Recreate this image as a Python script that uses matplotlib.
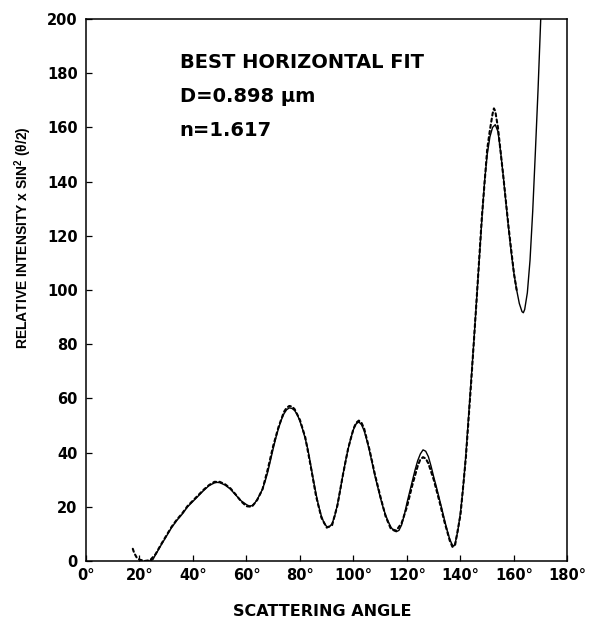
import matplotlib
matplotlib.use("Agg")
import matplotlib.pyplot as plt

plt.rcParams['font.family'] = ['DejaVu Sans']
plt.rcParams['mathtext.fontset'] = 'custom'
plt.rcParams['mathtext.bf'] = 'Liberation Sans:bold'
plt.rcParams['mathtext.rm'] = 'Liberation Sans'

# Mie theory curve (solid)
theory_angle = [22, 24, 25, 26, 28, 30, 32, 34, 36, 38, 40, 42, 44, 46, 48, 49, 50,
                52, 54, 56, 58, 60, 61, 62, 63, 64, 65, 66, 67, 68, 69, 70,
                71, 72, 73, 74, 75, 76, 77, 78, 79, 80, 81, 82, 83, 84, 85,
                86, 87, 88, 89, 90, 91, 92, 93, 94, 95, 96, 97, 98, 99, 100,
                101, 102, 103, 104, 105, 106, 107, 108, 109, 110, 111, 112,
                113, 114, 115, 116, 117, 118, 119, 120, 121, 122, 123, 124,
                125, 126, 127, 128, 129, 130, 131, 132, 133, 134, 135, 136,
                137, 137.5, 138, 139, 140, 141, 142, 143, 144, 145, 146, 147,
                148, 149, 150, 151, 152, 153, 154, 155, 156, 157, 158, 159,
                160, 161, 162, 163, 163.5, 164, 165, 166, 167, 168, 169, 170, 171]
theory_value = [0, 0, 0.5, 2.3, 5.7, 9, 12.3, 15, 17.3, 20, 22, 24, 26, 27.8, 28.8, 29, 28.9,
                28, 26.5, 24.3, 22.2, 20.8, 20.3, 20.4, 21.2, 22.7, 24.5, 26.5, 29.5, 33, 37.3, 41.5,
                45.5, 49, 52, 54.3, 55.8, 56.5, 56.3, 55.5, 54, 51.5, 48.5, 45, 41, 35.5, 30,
                24.8, 20.2, 16.6, 14, 12.7, 12.6, 13.8, 16.6, 20.8, 26, 31.5, 36.7, 41.3, 45.3, 48.5,
                50.6, 51.3, 50.3, 48, 44.5, 40.5, 36, 31.5, 27.5, 23.5, 20, 17,
                14.5, 12.5, 11.2, 10.8, 11.3, 13.3, 17, 21.5, 25.5, 29.5, 33.5, 37,
                39.5, 41, 40.5, 38.5, 35, 31, 27.3, 23.4, 19.4, 15.3, 11.4, 8,
                5.8, 5.5, 6.5, 11, 18, 27, 39, 53, 67, 81, 96, 111,
                126, 140, 150, 156.5, 160, 161, 158.5, 151, 142, 132, 122.5, 113.5,
                106, 100, 95, 92, 91.6, 92.8, 99, 111, 129, 151, 174, 200, 226]

# Measured intensities (dashed)
data_angle = [17.5, 18, 19, 20, 22, 24, 26, 28, 30, 32, 34, 36, 38, 40, 42, 44,
              46, 48, 50, 52, 54, 56, 58, 60, 62, 64, 66, 68, 70, 72, 74, 75,
              76, 77, 78, 80, 82, 84, 86, 88, 90, 92, 94, 96, 98, 100, 101,
              102, 103, 104, 106, 108, 110, 112, 114, 116, 118, 120, 122, 124,
              125, 126, 127, 128, 130, 132, 134, 136, 137, 138, 140, 142, 144,
              146, 148, 150, 151, 152, 152.5, 153, 154, 155, 156, 158, 160, 161]
data_value = [4.5, 3, 1.2, 0.5, 0, 0.3, 2.5, 6, 9.3, 12.6, 15.3, 17.6, 20.3, 22.3, 24.3, 26.3,
              28, 29.2, 29.2, 28.3, 26.8, 24.5, 22, 20.2, 20, 22.5, 26.5, 34, 42.5, 49.5, 55, 56.5,
              57.2, 57, 56, 52, 45.5, 35, 24, 16, 12.3, 13.2, 20.5, 31.5, 41.5, 48.8, 51,
              51.8, 51, 48.8, 41, 32, 24, 16.5, 11.8, 11.2, 14, 20, 28, 35,
              37.5, 38.3, 37.8, 36, 30, 22.5, 14.5, 7.5, 5.2, 6, 17, 38, 66,
              96, 127, 152, 159, 165, 167, 166, 160, 151, 142, 123, 106, 100]

xticks = [0, 20, 40, 60, 80, 100, 120, 140, 160, 180]
yticks = [0, 20, 40, 60, 80, 100, 120, 140, 160, 180, 200]
xtick_labels = [f"{t}°" for t in xticks]
ytick_labels = [str(t) for t in yticks]

fig = plt.figure(figsize=(6.0, 6.2), dpi=100)
ax = fig.add_axes([0.1433, 0.0952, 0.8025, 0.8742])

ax.plot(theory_angle, theory_value, color='black', linewidth=1.0)
ax.plot(data_angle, data_value, color='black', linewidth=1.5,
        linestyle=(0, (1.5, 1.5)), dash_capstyle='round')

ax.set_xlim(0, 180)
ax.set_ylim(0, 200)
ax.set_xticks(xticks)
ax.set_xticklabels(xtick_labels)
ax.set_yticks(yticks)
ax.set_yticklabels(ytick_labels)

ax.tick_params(direction='in', length=4, width=0.9, labelsize=10.5)
ax.tick_params(axis='y', pad=6)
ax.tick_params(axis='x', pad=5)
for lbl in ax.get_xticklabels() + ax.get_yticklabels():
    lbl.set_fontweight('bold')

for side in ['left', 'right', 'top', 'bottom']:
    ax.spines[side].set_linewidth(1.1)
    ax.spines[side].set_color('black')

ax.set_xlabel('SCATTERING ANGLE', fontsize=11.5, fontweight='bold')
ax.xaxis.set_label_coords(0.49, -0.08)
ax.set_ylabel(r'RELATIVE INTENSITY x SIN$^{\mathbf{2}}$ (θ/2)', fontsize=10,
              fontweight='bold', family=['Liberation Sans', 'DejaVu Sans'])
ax.yaxis.set_label_coords(-0.108, 0.596)

ax.text(35.1, 182, 'BEST HORIZONTAL FIT', fontsize=14, fontweight='bold',
        ha='left', va='baseline')
ax.text(35.1, 169.4, 'D=0.898 µm', fontsize=14, fontweight='bold',
        ha='left', va='baseline')
ax.text(35.1, 156.8, 'n=1.617', fontsize=14, fontweight='bold',
        ha='left', va='baseline')

fig.savefig('out.png', dpi=100, facecolor='white')
